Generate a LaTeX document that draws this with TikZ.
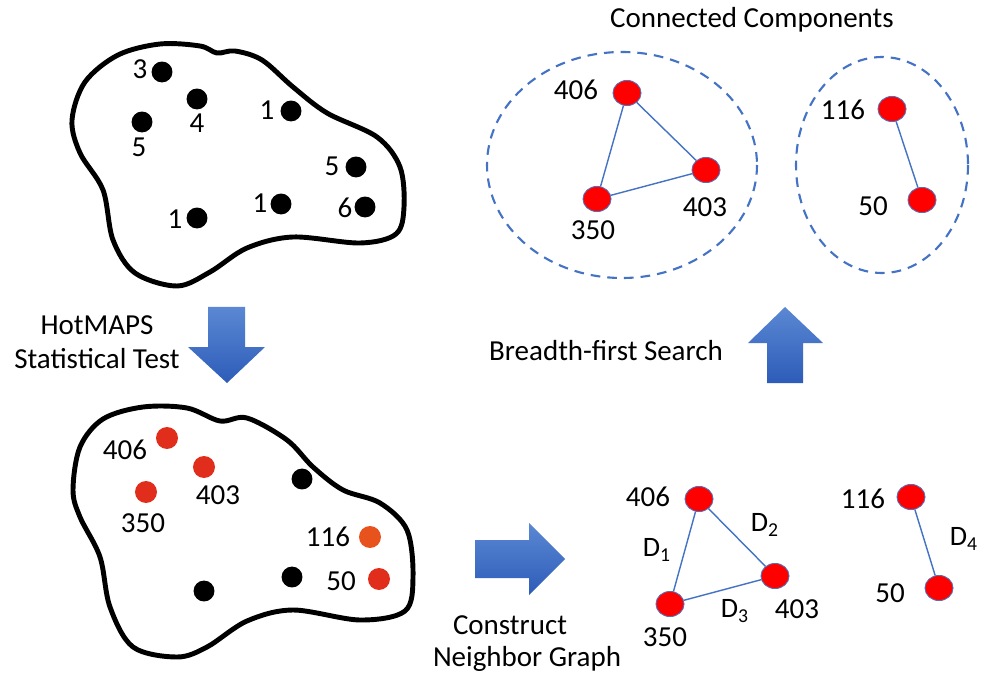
\documentclass[tikz,border=0pt]{standalone}
\usepackage{fontspec}
\setmainfont{Carlito}
\usetikzlibrary{shapes.geometric}
\definecolor{arrblueT}{HTML}{5B88D3}
\definecolor{arrblueB}{HTML}{2D5CB9}
\definecolor{edgeblue}{HTML}{4472C4}
\definecolor{hotred}{HTML}{E12D1B}
\definecolor{hotorange}{HTML}{E8521C}
\definecolor{nodered}{HTML}{FF0000}
\definecolor{noderim}{HTML}{5470B8}
\tikzset{
  blobline/.style={line width=2.8pt, black, line join=round},
  blk/.style={circle, fill=black, draw=none, minimum size=11.9pt, inner sep=0pt},
  hot/.style={circle, fill=hotred, draw=none, minimum size=12.5pt, inner sep=0pt},
  gnode/.style={ellipse, fill=nodered, draw=noderim, line width=0.5pt, minimum width=16pt, minimum height=14.3pt, inner sep=0pt},
  gedge/.style={edgeblue, line width=0.8pt},
  comp/.style={edgeblue, line width=1.2pt, dash pattern=on 5.5pt off 4pt},
  lbl/.style={inner sep=0pt, font=\fontsize{16.5}{19}\selectfont},
  sublbl/.style={inner sep=0pt, font=\fontsize{16}{19}\selectfont},
  bigarrow/.style={top color=arrblueT, bottom color=arrblueB, draw=none}
}
\begin{document}
\begin{tikzpicture}[x=0.02cm, y=-0.02cm]
\useasboundingbox (0,0) rectangle (982,678);
\fill[white] (0,0) rectangle (982,678);

% ---------- top blob ----------
\draw[blobline] plot[smooth cycle, tension=0.55] coordinates {
 (85,82) (118,55) (160,44) (200,46) (217,53) (235,51) (262,60) (293,87) (327,113)
 (377,137) (400,167) (404,207) (396,234) (360,243) (293,237) (247,248) (210,272)
 (177,286) (135,273) (113,240) (103,190) (80,153) (72,120)};
\node[blk] (t3) at (162,72) {};   \node[lbl] (t3l) at (140,69) {3};
\node[blk] (t4) at (197,99) {};   \node[lbl] (t4l) at (197,123) {4};
\node[blk] (t5) at (142,122) {};  \node[lbl] (t5l) at (139,147) {5};
\node[blk] (t1a) at (291,111) {}; \node[lbl] (t1al) at (267,110) {1};
\node[blk] (t5b) at (356,167) {}; \node[lbl] (t5bl) at (332,166) {5};
\node[blk] (t6) at (365,207) {};  \node[lbl] (t6l) at (345,208) {6};
\node[blk] (t1b) at (281,204) {}; \node[lbl] (t1bl) at (260,203) {1};
\node[blk] (t1c) at (197,218) {}; \node[lbl] (t1cl) at (175,219) {1};

% ---------- down arrow ----------
\path[bigarrow] (208,307) -- (245,307) -- (245,347) -- (265,347) -- (227,383) -- (188,347) -- (208,347) -- cycle;
\node[lbl] (hm1) at (97,325) {HotMAPS};
\node[lbl] (hm2) at (97,359) {Statistical Test};

% ---------- bottom blob ----------
\draw[blobline] plot[smooth cycle, tension=0.55] coordinates {
 (103,419) (143,407) (187,408) (220,421) (247,418) (287,440) (313,467) (343,490)
 (380,503) (407,530) (413,577) (405,611) (360,620) (293,610) (247,621) (207,647)
 (177,657) (133,647) (110,607) (100,557) (80,517) (73,490) (80,447)};
\node[hot] (b406) at (167,438) {};  \node[lbl] (b406l) at (125,450) {406};
\node[hot] (b403) at (204,467) {};  \node[lbl] (b403l) at (218,495) {403};
\node[hot] (b350) at (146,492) {};  \node[lbl] (b350l) at (143,523) {350};
\node[blk] (bk1) at (302,479) {};
\node[hot, fill=hotorange] (b116) at (370,537) {}; \node[lbl] (b116l) at (328,537) {116};
\node[hot] (b50) at (379,579) {};   \node[lbl] (b50l) at (341,581) {50};
\node[blk] (bk2) at (292,577) {};
\node[blk] (bk3) at (204,591) {};

% ---------- right arrow ----------
\path[bigarrow] (475,540) -- (529,540) -- (529,523) -- (565,559) -- (529,595) -- (529,578) -- (475,578) -- cycle;
\node[lbl] (cn1) at (510,625) {Construct};
\node[lbl] (cn2) at (527,659) {Neighbor Graph};

% ---------- neighbor graph ----------
\node[gnode] (n406) at (699,499) {}; \node[lbl] (n406l) at (648,497) {406};
\node[gnode] (n403) at (775,576) {}; \node[lbl] (n403l) at (797,609) {403};
\node[gnode] (n350) at (670,604) {}; \node[lbl] (n350l) at (665,637) {350};
\node[gnode] (n116) at (911,497) {}; \node[lbl] (n116l) at (863,499) {116};
\node[gnode] (n50) at (939,588) {};  \node[lbl] (n50l) at (890,593) {50};
\draw[gedge] (n406) -- (n350);
\draw[gedge] (n406) -- (n403);
\draw[gedge] (n350) -- (n403);
\draw[gedge] (n116) -- (n50);
\node[sublbl] (d1) at (657,550) {D\textsubscript{1}};
\node[sublbl] (d2) at (765,525) {D\textsubscript{2}};
\node[sublbl] (d3) at (735,611) {D\textsubscript{3}};
\node[sublbl] (d4) at (964,539) {D\textsubscript{4}};

% ---------- up arrow ----------
\path[bigarrow] (767,383) -- (767,343) -- (748,343) -- (785,307) -- (823,343) -- (803,343) -- (803,383) -- cycle;
\node[lbl] (bfs) at (606,351) {Breadth-first Search};

% ---------- connected components ----------
\node[lbl] (cc) at (752,20) {Connected Components};
\draw[comp] (622,165) ellipse [x radius=135, y radius=113];
\draw[comp] (882,165) ellipse [x radius=86, y radius=108];
\node[gnode] (c406) at (627,93) {};  \node[lbl] (c406l) at (576,90) {406};
\node[gnode] (c403) at (706,170) {}; \node[lbl] (c403l) at (705,207) {403};
\node[gnode] (c350) at (597,199) {}; \node[lbl] (c350l) at (593,230) {350};
\node[gnode] (c116) at (892,109) {}; \node[lbl] (c116l) at (843,110) {116};
\node[gnode] (c50) at (922,200) {};  \node[lbl] (c50l) at (873,206) {50};
\draw[gedge] (c406) -- (c350);
\draw[gedge] (c406) -- (c403);
\draw[gedge] (c350) -- (c403);
\draw[gedge] (c116) -- (c50);
\end{tikzpicture}
\end{document}
